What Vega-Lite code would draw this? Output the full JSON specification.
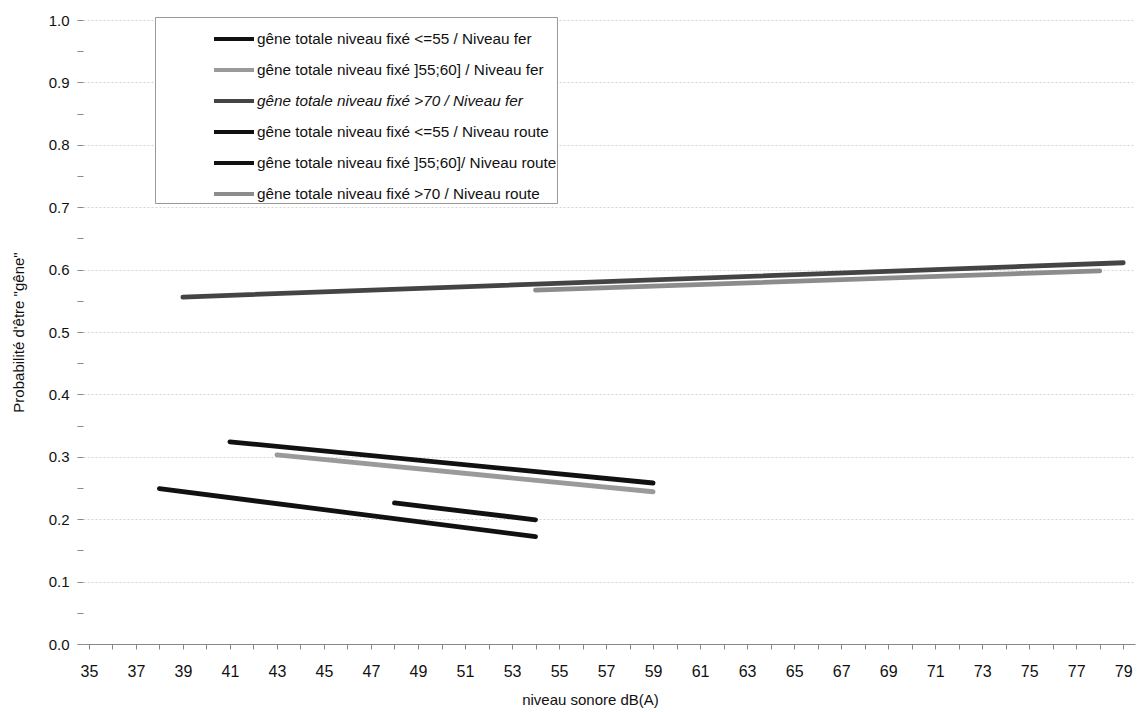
{
  "$schema": "https://vega.github.io/schema/vega-lite/v6.json",
  "width": 1052,
  "height": 624,
  "autosize": {"type": "none"},
  "padding": {"left": 83, "top": 20, "right": 8, "bottom": 68},
  "background": "white",
  "config": {
    "font": "Liberation Sans",
    "view": {"stroke": null},
    "axis": {"labelFont": "Liberation Sans", "titleFont": "Liberation Sans", "labelColor": "#111", "titleColor": "#111", "titleFontWeight": "normal"}
  },
  "data": {
    "values": [
      {"serie": "gêne totale niveau fixé <=55 / Niveau fer", "x": 38, "p": 0.249},
      {"serie": "gêne totale niveau fixé <=55 / Niveau fer", "x": 54, "p": 0.172},
      {"serie": "gêne totale niveau fixé ]55;60] / Niveau fer", "x": 43, "p": 0.303},
      {"serie": "gêne totale niveau fixé ]55;60] / Niveau fer", "x": 59, "p": 0.244},
      {"serie": "gêne totale niveau fixé >70 / Niveau fer", "x": 39, "p": 0.556},
      {"serie": "gêne totale niveau fixé >70 / Niveau fer", "x": 79, "p": 0.611},
      {"serie": "gêne totale niveau fixé <=55 / Niveau route", "x": 48, "p": 0.226},
      {"serie": "gêne totale niveau fixé <=55 / Niveau route", "x": 54, "p": 0.199},
      {"serie": "gêne totale niveau fixé ]55;60]/ Niveau route", "x": 41, "p": 0.324},
      {"serie": "gêne totale niveau fixé ]55;60]/ Niveau route", "x": 59, "p": 0.258},
      {"serie": "gêne totale niveau fixé >70 / Niveau route", "x": 54, "p": 0.567},
      {"serie": "gêne totale niveau fixé >70 / Niveau route", "x": 78, "p": 0.598}
    ]
  },
  "mark": {"type": "line", "strokeWidth": 4.8, "strokeCap": "round"},
  "encoding": {
    "x": {
      "field": "x", "type": "quantitative",
      "scale": {"domain": [34.75, 79.5], "nice": false, "zero": false},
      "axis": {
        "title": "niveau sonore dB(A)",
        "values": [35,36,37,38,39,40,41,42,43,44,45,46,47,48,49,50,51,52,53,54,55,56,57,58,59,60,61,62,63,64,65,66,67,68,69,70,71,72,73,74,75,76,77,78,79],
        "labelExpr": "datum.value % 2 == 1 ? datum.label : ''",
        "grid": false,
        "domainColor": "#888",
        "tickColor": "#888",
        "tickSize": 5,
        "labelFontSize": 16,
        "labelPadding": 14,
        "labelFlush": false,
        "titleFontSize": 15,
        "titlePadding": 13,
        "titleX": 507
      }
    },
    "y": {
      "field": "p", "type": "quantitative",
      "scale": {"domain": [0, 1], "nice": false},
      "axis": {
        "title": "Probabilité d'être \"gêne\"",
        "values": [0,0.05,0.1,0.15,0.2,0.25,0.3,0.35,0.4,0.45,0.5,0.55,0.6,0.65,0.7,0.75,0.8,0.85,0.9,0.95,1],
        "labelExpr": "abs(datum.value*10 - round(datum.value*10)) < 0.01 ? format(datum.value, '.1f') : ''",
        "grid": true,
        "gridColor": "#d4d4d4",
        "gridDash": [2, 2],
        "gridOpacity": {"expr": "abs(datum.value*10 - round(datum.value*10)) < 0.01 && datum.value > 0 ? 1 : 0"},
        "domain": false,
        "tickColor": "#888",
        "tickSize": 6,
        "labelFontSize": 15,
        "labelPadding": 8,
        "titleFontSize": 15,
        "titlePadding": 22
      }
    },
    "color": {
      "field": "serie", "type": "nominal",
      "scale": {
        "domain": [
          "gêne totale niveau fixé <=55 / Niveau fer",
          "gêne totale niveau fixé ]55;60] / Niveau fer",
          "gêne totale niveau fixé >70 / Niveau fer",
          "gêne totale niveau fixé <=55 / Niveau route",
          "gêne totale niveau fixé ]55;60]/ Niveau route",
          "gêne totale niveau fixé >70 / Niveau route"
        ],
        "range": ["#111111", "#9a9a9a", "#444444", "#111111", "#111111", "#8c8c8c"]
      },
      "legend": {
        "title": "\u00a0",
        "titleOrient": "left",
        "titleFontSize": 2,
        "titlePadding": 57,
        "orient": "none",
        "legendX": 72,
        "legendY": -3,
        "padding": 0,
        "fillColor": "white",
        "strokeColor": "#999",
        "symbolType": "stroke",
        "symbolSize": 1600,
        "symbolStrokeWidth": 4,
        "labelFontSize": 15.3,
        "labelFont": "Liberation Sans",
        "labelColor": "#111",
        "labelOffset": 1,
        "labelLimit": 400,
        "rowPadding": -2.6,
        "encode": {
          "labels": {
            "update": {
              "fontStyle": {"signal": "datum.value == 'gêne totale niveau fixé >70 / Niveau fer' ? 'italic' : 'normal'"}
            }
          }
        }
      }
    }
  }
}
